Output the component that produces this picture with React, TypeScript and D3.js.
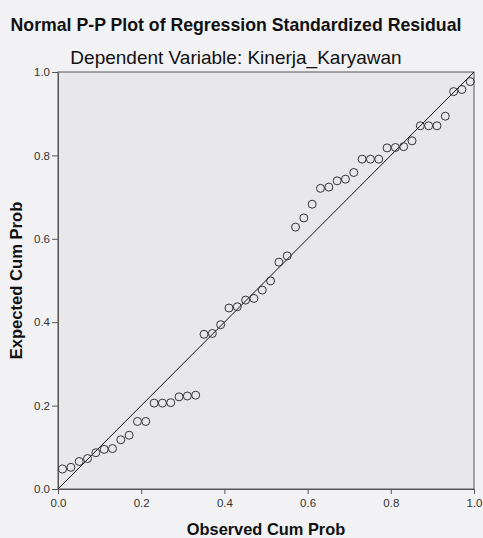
import React, { useEffect, useRef } from "react";
import * as d3 from "d3";

// observed cumulative probability (x) and expected cumulative probability (y)
const observed = [
  0.011, 0.031, 0.051, 0.071, 0.091, 0.111, 0.131, 0.151, 0.171, 0.191,
  0.211, 0.231, 0.251, 0.271, 0.291, 0.311, 0.331, 0.351, 0.371, 0.391,
  0.411, 0.431, 0.451, 0.471, 0.491, 0.511, 0.531, 0.551, 0.571, 0.591,
  0.611, 0.631, 0.651, 0.671, 0.691, 0.711, 0.731, 0.751, 0.771, 0.791,
  0.811, 0.831, 0.851, 0.871, 0.891, 0.911, 0.931, 0.951, 0.971, 0.991,
];
const expected = [
  0.048, 0.052, 0.066, 0.073, 0.087, 0.095, 0.097, 0.118, 0.129, 0.162,
  0.162, 0.206, 0.206, 0.207, 0.221, 0.223, 0.225, 0.371, 0.373, 0.394,
  0.434, 0.437, 0.453, 0.457, 0.477, 0.499, 0.544, 0.559, 0.628, 0.65,
  0.683, 0.721, 0.724, 0.739, 0.743, 0.759, 0.791, 0.791, 0.791, 0.818,
  0.819, 0.821, 0.835, 0.871, 0.871, 0.871, 0.894, 0.953, 0.958, 0.977,
];
const ticks = [0, 0.2, 0.4, 0.6, 0.8, 1.0];

const title = "Normal P-P Plot of Regression Standardized Residual";
const subtitle = "Dependent Variable: Kinerja_Karyawan";
const xLabel = "Observed Cum Prob";
const yLabel = "Expected Cum Prob";

function App() {
  const ref = useRef<SVGSVGElement>(null);

  useEffect(() => {
    const width = 483;
    const height = 538;
    const m = { top: 72, right: 9, bottom: 49, left: 58 };
    const font = "Arial, 'Liberation Sans', sans-serif";

    const svg = d3.select(ref.current);
    svg.selectAll("*").remove();

    svg.append("rect").attr("width", width).attr("height", height).attr("fill", "#f2f2f4");

    const x = d3.scaleLinear().domain([0, 1]).range([m.left, width - m.right]);
    const y = d3.scaleLinear().domain([0, 1]).range([height - m.bottom, m.top]);

    // plot area
    svg
      .append("rect")
      .attr("x", x(0))
      .attr("y", y(1))
      .attr("width", x(1) - x(0))
      .attr("height", y(0) - y(1))
      .attr("fill", "#e8e8ea")
      .attr("stroke", "#555")
      .attr("stroke-width", 1);

    // axes
    const xAxis = svg
      .append("g")
      .attr("transform", `translate(0,${y(0)})`)
      .call(d3.axisBottom(x).tickValues(ticks).tickFormat(d3.format(".1f")).tickSize(5).tickSizeOuter(0));
    const yAxis = svg
      .append("g")
      .attr("transform", `translate(${x(0)},0)`)
      .call(d3.axisLeft(y).tickValues(ticks).tickFormat(d3.format(".1f")).tickSize(6).tickSizeOuter(0));

    [xAxis, yAxis].forEach((g) => {
      g.select(".domain").attr("stroke", "#555");
      g.selectAll(".tick line").attr("stroke", "#555");
      g.selectAll(".tick text")
        .attr("fill", "#333")
        .style("font-family", font)
        .style("font-size", "11.5px");
    });
    xAxis.selectAll(".tick text").attr("dy", "0.9em");
    yAxis.selectAll(".tick text").attr("x", -8);

    // reference line
    svg
      .append("line")
      .attr("x1", x(0))
      .attr("y1", y(0))
      .attr("x2", x(1))
      .attr("y2", y(1))
      .attr("stroke", "#111")
      .attr("stroke-width", 1);

    // points
    svg
      .selectAll(".pt")
      .data(observed)
      .enter()
      .append("circle")
      .attr("class", "pt")
      .attr("cx", (d) => x(d))
      .attr("cy", (d, i) => y(expected[i]))
      .attr("r", 4)
      .attr("fill", "none")
      .attr("stroke", "#333")
      .attr("stroke-width", 1);

    // titles
    svg
      .append("text")
      .attr("x", 236)
      .attr("y", 31)
      .attr("text-anchor", "middle")
      .style("font-family", font)
      .style("font-size", "17.7px")
      .style("font-weight", "bold")
      .attr("fill", "#111")
      .text(title);
    svg
      .append("text")
      .attr("x", 236)
      .attr("y", 64)
      .attr("text-anchor", "middle")
      .style("font-family", font)
      .style("font-size", "19px")
      .attr("fill", "#111")
      .text(subtitle);
    svg
      .append("text")
      .attr("x", (x(0) + x(1)) / 2)
      .attr("y", 535)
      .attr("text-anchor", "middle")
      .style("font-family", font)
      .style("font-size", "16.4px")
      .style("font-weight", "bold")
      .attr("fill", "#111")
      .text(xLabel);
    svg
      .append("text")
      .attr("transform", `translate(22,${(y(0) + y(1)) / 2}) rotate(-90)`)
      .attr("text-anchor", "middle")
      .style("font-family", font)
      .style("font-size", "16.6px")
      .style("font-weight", "bold")
      .attr("fill", "#111")
      .text(yLabel);
  }, []);

  return (
    <svg
      ref={ref}
      width={483}
      height={538}
      style={{ position: "absolute", left: 0, top: 0 }}
    ></svg>
  );
}

export default App;
